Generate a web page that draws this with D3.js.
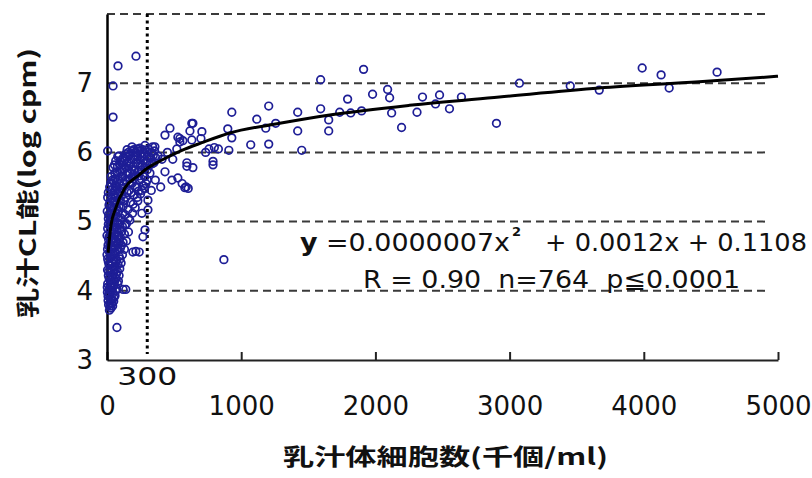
<!DOCTYPE html>
<html>
<head>
<meta charset="utf-8">
<script src="https://cdn.jsdelivr.net/npm/d3@7"></script>
<style>
  body { margin: 0; background: #fff; }
  svg { display: block; }
</style>
</head>
<body>
<div id="container"></div>
<script>
/* CONSTANTS AND GLOBALS */
const width = 812,
      height = 478,
      margin = {top: 14, bottom: 118, left: 107, right: 34};

const xTicks = [0, 1000, 2000, 3000, 4000, 5000];
const yTicks = [3, 4, 5, 6, 7];
const gridValues = [4, 5, 6, 7, 8];
const cutoff = 300;

// 体細胞数 (千個/ml), CL能 (log cpm)
const pointsLow = [
  [18,3.72],[30,3.75],[42,3.78],[12,3.8],[25,3.83],[50,3.85],[35,3.88],
  [8,3.92],[20,3.95],[45,3.97],[60,3.93],[15,4.02],[32,4.05],[55,4.08],[72,4.03],[5,4.1],[40,4.12],
  [25,4.15],[65,4.18],[85,4.14],[10,4.22],[48,4.25],[78,4.28],[30,4.3],[95,4.32],[58,4.35],[15,4.38],[40,4.4],[105,4.4],
  [70,4.44],[5,4.46],[28,4.48],[90,4.5],[50,4.53],[115,4.52],[18,4.56],[75,4.58],[38,4.6],[100,4.62],[130,4.6],[60,4.65],[8,4.66],[85,4.68],[120,4.7],
  [30,4.72],[145,4.72],[55,4.75],[100,4.77],[15,4.78],[75,4.8],[130,4.82],[40,4.85],[160,4.85],[95,4.88],[5,4.9],[60,4.92],[115,4.93],[25,4.95],[145,4.97],[80,4.98],
  [3,3.98],[22,4.08],[48,4.18],[12,4.28],[62,4.3],[35,4.42],[0,4.52],[48,4.62],[22,4.68],[65,4.72],[90,4.8],[35,4.82],[0,4.8],[50,4.88],
  [22,3.78],[38,3.82],[8,3.86],[28,3.9],[52,3.9],[14,3.96],[36,4.0],[66,4.0],[2,4.05],[46,4.06],[26,4.1],[80,4.1],[58,4.14],[16,4.18],
  [36,4.22],[70,4.24],[90,4.22],[4,4.3],[52,4.32],[24,4.36],[82,4.38],[66,4.42],[10,4.42],[46,4.46],[98,4.46],[30,4.54],[62,4.56],
  [84,4.6],[4,4.6],[26,4.62],[108,4.66],[44,4.7],[72,4.68],[12,4.74],[88,4.74],[58,4.8],[22,4.86],[110,4.86],[74,4.9],[38,4.92],
  [10,4.96],[96,4.96],[56,4.98]
];
const pointsMid = [
  [45,5.0],[170,5.02],[10,5.04],[105,5.05],[65,5.08],[135,5.1],[30,5.12],[190,5.12],[85,5.15],[155,5.17],[50,5.2],[120,5.22],[210,5.2],[15,5.24],[70,5.27],[175,5.28],[100,5.3],[230,5.3],
  [35,5.33],[140,5.35],[200,5.38],[80,5.4],[250,5.4],[55,5.44],[165,5.45],[115,5.48],[225,5.5],[20,5.5],[270,5.52],[90,5.55],[190,5.56],[145,5.58],[240,5.6],
  [60,5.62],[110,5.65],[210,5.66],[280,5.65],[170,5.7],[75,5.72],[255,5.74],[130,5.76],[300,5.75],[195,5.8],[95,5.82],[230,5.84],[320,5.82],[150,5.85],
  [270,5.88],[180,5.9],[120,5.92],[300,5.94],[215,5.95],[250,5.98],[330,6.0],[160,6.0],[285,6.03],[200,6.04],[235,6.02],[345,5.96],
  [20,5.0],[80,5.06],[40,5.06],[2,5.15],[60,5.14],[30,5.2],[90,5.22],[45,5.3],[5,5.35],[65,5.36],[100,5.42],[38,5.46],[70,5.5],[50,5.58],[30,5.65],[85,5.68],[45,5.78],[110,5.75],[65,5.88],[90,5.95],[140,5.98],
  [140,5.6],[170,5.55],[200,5.62],[230,5.72],[260,5.82],[185,5.75],[215,5.85],[245,5.9],[275,5.95],[150,5.7],[125,5.88],[160,5.95],[190,6.02],[225,6.05],[310,6.05],[340,6.08],[365,5.92],[290,5.55],[260,5.45],[225,5.35],[195,5.25],[160,5.05],[135,4.95],[180,5.42],[210,5.5],
  [30,5.04],[92,5.02],[55,5.1],[118,5.12],[12,5.1],[76,5.18],[40,5.16],[104,5.2],[22,5.28],[58,5.28],[130,5.3],[88,5.32],[10,5.42],
  [48,5.38],[112,5.38],[76,5.46],[28,5.56],[60,5.52],[100,5.52],[128,5.54],[40,5.6],[82,5.6],[118,5.64],[58,5.7],[100,5.72],
  [140,5.78],[78,5.8],[120,5.82],[56,5.82],[100,5.88],[136,5.9],[80,5.94],
  [150,5.42],[235,5.44],[280,5.48],[170,5.62],[255,5.62],[300,5.6],[195,5.68],[235,5.66],[320,5.7],[165,5.8],[205,5.74],[285,5.78],
  [245,5.8],[340,5.84],[175,5.84],[300,5.86],[200,5.9],[230,5.94],[260,5.94],[320,5.92],[140,5.94],[175,5.98],[210,6.0],[265,6.04],
  [300,6.0],[150,6.04],[355,6.02],[245,6.06]
];
const pointsOut = [
  [5,6.02],[45,6.96],[45,6.51],[82,7.25],[216,7.39],
  [74,3.47],[120,4.02],[140,4.02],[193,4.56],[215,4.57],[240,4.56],[268,4.78],[871,4.45],
  [432,6.25],[528,6.22],[632,6.18],[700,6.2],[283,6.1],[357,6.08],[186,6.08],[432,5.72],[484,5.6],[528,5.63],[580,5.49],[595,5.85],
  [305,5.31],[305,5.17],[260,5.12],[283,4.88],[469,6.35],[632,6.42],[543,6.2],[640,6.42],[618,6.31],[707,6.3],[543,6.15],[565,6.17],
  [760,6.05],[800,6.07],[830,6.05],[735,6.0],[790,5.87],[790,5.82],[595,5.8],[640,5.78],[560,5.55],[590,5.5],[605,5.48],
  [900,6.34],[930,6.21],[908,6.03],[930,6.58],[380,5.95],[410,5.9],[450,6.0],[360,5.6],[400,5.5],[350,5.85],[330,5.45],[490,5.9],[520,6.05]
];
const pointsHigh = [
  [1071,6.11],[1116,6.48],[1183,6.35],[1205,6.67],[1205,6.12],[1257,6.42],[1421,6.58],[1421,6.31],[1451,6.03],
  [1592,7.05],[1592,6.63],[1652,6.47],[1652,6.31],[1734,6.58],[1793,6.77],[1816,6.57],[1897,6.6],[1912,7.2],
  [1979,6.84],[2091,6.91],[2106,6.79],[2121,6.57],[2195,6.36],[2310,6.58],[2351,6.8],[2448,6.7],[2478,6.83],
  [2552,6.63],[2641,6.8],[2902,6.42],[3073,7.0],[3452,6.96],[3668,6.9],[3988,7.22],[4129,7.12],[4189,6.93],[4546,7.16]
];

// 回帰曲線, read at a few places along the drawn line
const curveX = [8, 30, 60, 134, 231, 300, 409, 558, 707, 915, 1287, 1659, 2254, 2924, 3668, 4412, 5000];
const curveY = [4.55, 4.95, 5.17, 5.49, 5.66, 5.77, 5.89, 6.03, 6.14, 6.28, 6.42, 6.54, 6.68, 6.8, 6.93, 7.02, 7.1];

const points = [...pointsLow, ...pointsMid, ...pointsOut, ...pointsHigh];

/* SCALES */
const xScale = d3.scaleLinear()
                 .domain([0, 5000])
                 .range([margin.left, width - margin.right]);

const yScale = d3.scaleLinear()
                 .domain([3, 8])
                 .range([height - margin.bottom, margin.top]);

const svg = d3.select("#container")
              .append("svg")
              .attr("width", width)
              .attr("height", height)
              .style("font-family", "'DejaVu Sans', sans-serif");

svg.append("rect")
   .attr("width", width)
   .attr("height", height)
   .attr("fill", "#fff");

// dashed grid
svg.selectAll(".grid")
   .data(gridValues)
   .join("line")
   .attr("class", "grid")
   .attr("x1", xScale(0))
   .attr("x2", xScale(5000) - 8)
   .attr("y1", d => yScale(d))
   .attr("y2", d => yScale(d))
   .attr("stroke", "#3a3a3a")
   .attr("stroke-width", 2)
   .attr("stroke-dasharray", "8,5");

// 300 cutoff
svg.append("line")
   .attr("x1", xScale(cutoff))
   .attr("x2", xScale(cutoff))
   .attr("y1", yScale(8))
   .attr("y2", yScale(3) - 6)
   .attr("stroke", "#000")
   .attr("stroke-width", 3)
   .attr("stroke-dasharray", "3,3.5");

/* AXES */
const xAxis = d3.axisBottom(xScale)
                .tickValues(xTicks)
                .tickSize(-8)
                .tickSizeOuter(0)
                .tickPadding(37)
                .tickFormat(d3.format("d"));

const yAxis = d3.axisLeft(yScale)
                .tickValues(yTicks)
                .tickSize(0)
                .tickSizeOuter(0)
                .tickPadding(14)
                .tickFormat(d3.format("d"));

const xAxisGroup = svg.append("g")
   .attr("transform", `translate(0, ${yScale(3)})`)
   .call(xAxis);
xAxisGroup.select(".domain").attr("stroke", "#222").attr("stroke-width", 2);
xAxisGroup.selectAll(".tick line").attr("stroke", "#222").attr("stroke-width", 2);
xAxisGroup.selectAll(".tick text")
   .attr("fill", "#111")
   .style("font-size", "26px")
   .attr("font-family", "'DejaVu Sans', sans-serif");

const yAxisGroup = svg.append("g")
   .attr("transform", `translate(${xScale(0)}, 0)`)
   .call(yAxis);
yAxisGroup.select(".domain").attr("stroke", "#000").attr("stroke-width", 2.5);
yAxisGroup.selectAll(".tick text")
   .attr("fill", "#111")
   .style("font-size", "26px")
   .attr("font-family", "'DejaVu Sans', sans-serif");

svg.append("text")
   .attr("x", xScale(cutoff))
   .attr("y", yScale(3) + 25)
   .attr("text-anchor", "middle")
   .attr("fill", "#111")
   .style("font-size", "25px")
   .attr("textLength", 60)
   .attr("lengthAdjust", "spacingAndGlyphs")
   .text("300");

/* MARKS */
svg.selectAll(".circle-point")
   .data(points)
   .join("circle")
   .attr("class", "circle-point")
   .attr("r", 3.8)
   .attr("cx", d => xScale(d[0]))
   .attr("cy", d => yScale(d[1]))
   .attr("fill", "none")
   .attr("stroke", "#1e1e96")
   .attr("stroke-width", 1.7);

const lineGen = d3.line()
   .x(d => xScale(d[0]))
   .y(d => yScale(d[1]))
   .curve(d3.curveMonotoneX);

svg.append("path")
   .datum(curveX.map((x, i) => [x, curveY[i]]))
   .attr("d", lineGen)
   .attr("fill", "none")
   .attr("stroke", "#000")
   .attr("stroke-width", 3);

/* TEXT */
const eq1 = svg.append("text")
   .attr("x", 300).attr("y", 251)
   .attr("fill", "#111")
   .style("font-size", "24px")
   .attr("textLength", 210)
   .attr("lengthAdjust", "spacingAndGlyphs");
eq1.append("tspan").attr("font-weight", "bold").text("y");
eq1.append("tspan").text(" =0.0000007x");

svg.append("text")
   .attr("x", 512).attr("y", 236)
   .attr("fill", "#111")
   .attr("font-weight", "bold")
   .style("font-size", "13px")
   .text("2");

svg.append("text")
   .attr("x", 545).attr("y", 251)
   .attr("fill", "#111")
   .style("font-size", "24px")
   .attr("textLength", 262)
   .attr("lengthAdjust", "spacingAndGlyphs")
   .text("+ 0.0012x + 0.1108");

svg.append("text")
   .attr("x", 363).attr("y", 288)
   .attr("fill", "#111")
   .style("font-size", "24px")
   .attr("textLength", 377)
   .attr("lengthAdjust", "spacingAndGlyphs")
   .attr("xml:space", "preserve")
   .text("R = 0.90  n=764  p\u22660.0001");

svg.append("text")
   .attr("class", "xLabel")
   .attr("x", 283).attr("y", 465)
   .attr("fill", "#111")
   .attr("font-weight", "bold")
   .style("font-family", "'Noto Sans CJK JP', sans-serif")
   .style("font-size", "23px")
   .attr("textLength", 325)
   .attr("lengthAdjust", "spacingAndGlyphs")
   .text("乳汁体細胞数(千個/ml)");

svg.append("text")
   .attr("class", "yLabel")
   .attr("transform", "rotate(-90)")
   .attr("x", -318).attr("y", 36)
   .attr("fill", "#111")
   .attr("font-weight", "bold")
   .style("font-family", "'Noto Sans CJK JP', sans-serif")
   .style("font-size", "23px")
   .attr("textLength", 270)
   .attr("lengthAdjust", "spacingAndGlyphs")
   .text("乳汁CL能(log cpm)");
</script>
</body>
</html>
